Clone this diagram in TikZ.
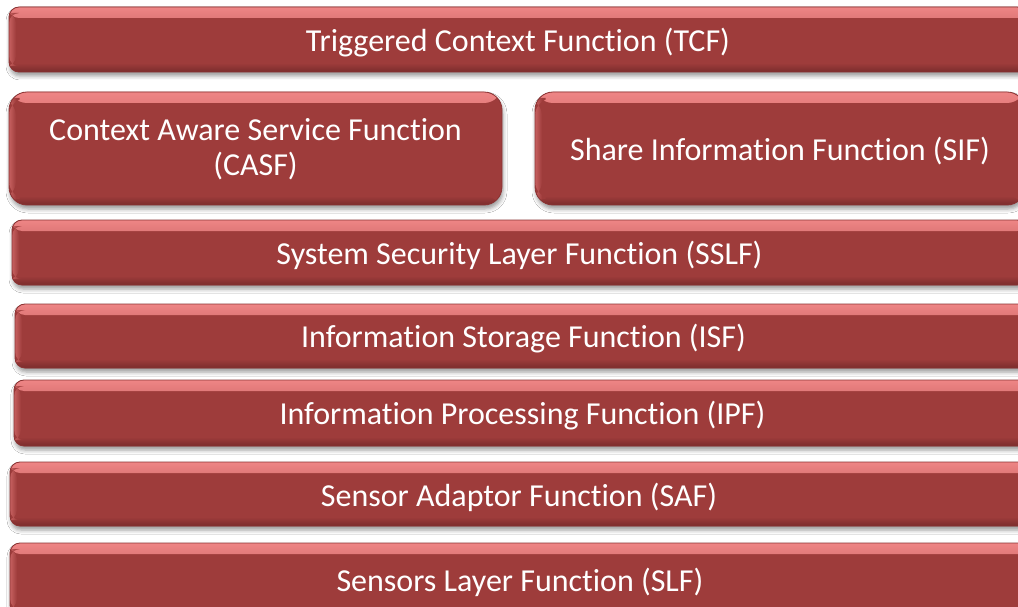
\documentclass[tikz,border=0pt]{standalone}
\usepackage{fontspec}
\setmainfont[RawFeature={-liga;-clig;-dlig;-calt}]{Carlito}
\usetikzlibrary{shadows.blur}
\definecolor{barbase}{HTML}{9E3C3B}
\definecolor{barlight}{HTML}{EE8585}
\definecolor{bardark}{HTML}{7A2C2C}
\definecolor{baredge}{HTML}{8A3333}
% lower the label inside its box while keeping the box's reported size
\newcommand\lowtext[1]{\raisebox{-3pt}[\height][\depth]{#1}}
\tikzset{
  layerbox/.style={
    rounded corners=10pt, fill=barbase, draw=baredge, line width=0.8pt,
    text=white, font=\fontsize{32}{35}\selectfont, align=center,
    inner sep=0pt, outer sep=0pt,
    blur shadow={shadow xshift=1pt, shadow yshift=-4pt, shadow blur radius=4pt, shadow opacity=40},
    path picture={
      \shade[top color=barlight, bottom color=barbase]
        (path picture bounding box.north west) rectangle
        ([yshift=-11pt]path picture bounding box.north east);
      \shade[top color=barbase, bottom color=bardark]
        ([yshift=9pt]path picture bounding box.south west) rectangle
        (path picture bounding box.south east);
      \shade[left color=barlight!50!barbase, right color=barbase]
        ([yshift=-6pt]path picture bounding box.north west) rectangle
        ([xshift=7pt,yshift=6pt]path picture bounding box.south west);
    }
  },
  bigbox/.style={layerbox, rounded corners=18pt}
}
\begin{document}
\begin{tikzpicture}[x=1pt,y=-1pt]
  \clip (0,0) rectangle (1018,607);
  \fill[white] (0,0) rectangle (1018,607);
  % layers, top to bottom
  \node[layerbox, minimum width=1018pt, minimum height=65pt] (tcf) at (518,39.5) {\lowtext{Triggered Context Function (TCF)}};
  \node[bigbox, minimum width=493pt, minimum height=113pt] (casf) at (255.5,148.5)
    {\lowtext{\begin{tabular}{@{}c@{}}Context Aware Service Function\\[0pt](CASF)\end{tabular}}};
  \node[bigbox, minimum width=490pt, minimum height=113pt] (sif) at (780,148.5) {\lowtext{Share Information Function (SIF)}};
  \node[layerbox, minimum width=1015pt, minimum height=65pt] (sslf) at (519.5,252.5) {\lowtext{System Security Layer Function (SSLF)}};
  \node[layerbox, minimum width=1017pt, minimum height=64pt] (isf) at (523.5,336) {\lowtext{Information Storage Function (ISF)}};
  \node[layerbox, minimum width=1017pt, minimum height=66pt] (ipf) at (522.5,413) {\lowtext{Information Processing Function (IPF)}};
  \node[layerbox, minimum width=1018pt, minimum height=64pt] (saf) at (519,494) {\lowtext{Sensor Adaptor Function (SAF)}};
  \node[layerbox, minimum width=1020pt, minimum height=72pt] (slf) at (520,579) {\lowtext{Sensors Layer Function (SLF)}};
\end{tikzpicture}
\end{document}
